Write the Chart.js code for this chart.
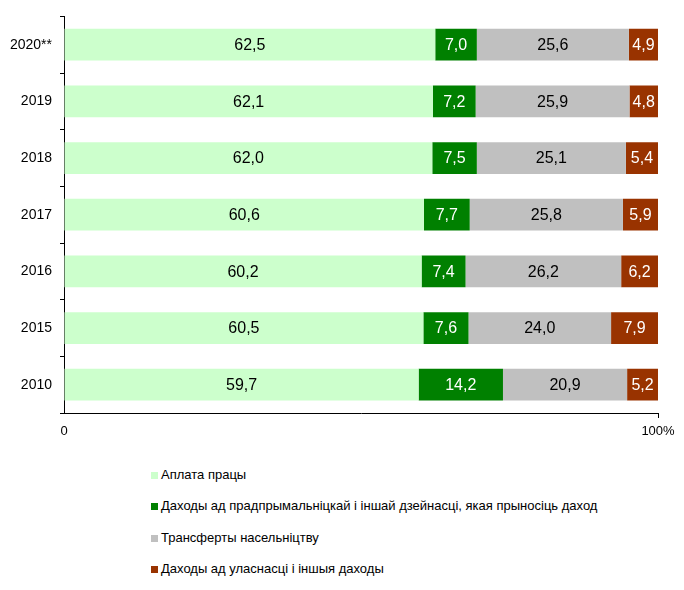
<!DOCTYPE html>
<html>
<head>
<meta charset="utf-8">
<script src="https://cdn.jsdelivr.net/npm/chart.js@4/dist/chart.umd.min.js"></script>
<style>
    body { margin: 0; background: #fff; font-family: Arial, "Liberation Sans", sans-serif; }
    #wrap { position: relative; width: 684px; height: 590px; }
    #legenda { position: absolute; left: 151px; top: 465px; font-size: 13px; color: #000; }
    #legenda div { height: 31.3px; line-height: 20px; white-space: nowrap; }
    #legenda span.box { display: inline-block; width: 7px; height: 7px; margin-right: 3px; vertical-align: 0px; }
</style>
</head>
<body>
<div id="wrap">
    <canvas id="estruturaChart" width="684" height="440"></canvas>
    <div id="legenda"></div>
</div>
<script>
    // Dados do gráfico
    const anos = ['2020**', '2019', '2018', '2017', '2016', '2015', '2010'];
    const aplataPracy = [62.5, 62.1, 62.0, 60.6, 60.2, 60.5, 59.7];
    const dachodyPradprymalnickaj = [7.0, 7.2, 7.5, 7.7, 7.4, 7.6, 14.2];
    const transferty = [25.6, 25.9, 25.1, 25.8, 26.2, 24.0, 20.9];
    const dachodyUlasnasci = [4.9, 4.8, 5.4, 5.9, 6.2, 7.9, 5.2];
    const nomesSeries = [
        'Аплата працы',
        'Даходы ад прадпрымальніцкай і іншай дзейнасці, якая прыносіць даход',
        'Трансферты насельніцтву',
        'Даходы ад уласнасці і іншыя даходы'
    ];
    const cores = ['#ccffcc', '#008000', '#c0c0c0', '#993300'];
    const coresTexto = ['#000', '#fff', '#000', '#fff'];
    const ticksX = [0, 100];

    const valores = [aplataPracy, dachodyPradprymalnickaj, transferty, dachodyUlasnasci];

    // Plugin simples para escrever os valores dentro das barras
    const rotulosPlugin = {
        id: 'rotulos',
        afterDatasetsDraw(chart) {
            const ctx = chart.ctx;
            ctx.save();
            ctx.font = '16px Arial, "Liberation Sans", sans-serif';
            ctx.textAlign = 'center';
            ctx.textBaseline = 'middle';
            chart.data.datasets.forEach((ds, i) => {
                const meta = chart.getDatasetMeta(i);
                ctx.fillStyle = coresTexto[i];
                meta.data.forEach((el, j) => {
                    const p = el.getCenterPoint();
                    const txt = ds.data[j].toFixed(1).replace('.', ',');
                    ctx.fillText(txt, p.x, p.y + 1);
                });
            });
            ctx.restore();
        }
    };

    const ctxEstrutura = document.getElementById('estruturaChart').getContext('2d');
    const estruturaChart = new Chart(ctxEstrutura, {
        type: 'bar',
        data: {
            labels: anos,
            datasets: valores.map((v, i) => ({
                label: nomesSeries[i],
                data: v,
                backgroundColor: cores[i],
                borderWidth: 0,
                categoryPercentage: 1,
                barPercentage: 0.56
            }))
        },
        options: {
            indexAxis: 'y',
            responsive: false,
            animation: false,
            layout: { padding: { top: 14, right: 26, left: 0, bottom: 0 } },
            plugins: {
                legend: { display: false },
                tooltip: { enabled: false }
            },
            scales: {
                x: {
                    stacked: true,
                    min: 0,
                    max: 100,
                    afterBuildTicks: scale => { scale.ticks = ticksX.map(v => ({ value: v })); },
                    afterFit: scale => { scale.height = 27; },
                    border: { color: '#000', width: 1 },
                    grid: {
                        drawOnChartArea: false,
                        tickLength: 5,
                        color: c => c.index === 0 ? 'rgba(0,0,0,0)' : '#000'
                    },
                    ticks: {
                        color: '#000',
                        padding: 6,
                        maxRotation: 0,
                        font: { family: 'Arial, "Liberation Sans", sans-serif', size: 13 },
                        callback: v => v === 100 ? '100%' : '0'
                    }
                },
                y: {
                    stacked: true,
                    afterFit: scale => { scale.width = 64; },
                    border: { color: '#000', width: 1 },
                    grid: {
                        drawOnChartArea: false,
                        offset: true,
                        tickLength: 4,
                        color: '#000'
                    },
                    ticks: {
                        color: '#000',
                        padding: 8,
                        font: { family: 'Arial, "Liberation Sans", sans-serif', size: 14 }
                    }
                }
            }
        },
        plugins: [rotulosPlugin]
    });

    // Legenda vertical abaixo do gráfico
    const legenda = document.getElementById('legenda');
    nomesSeries.forEach((nome, i) => {
        const linha = document.createElement('div');
        linha.innerHTML = '<span class="box" style="background:' + cores[i] + '"></span>' + nome;
        legenda.appendChild(linha);
    });
</script>
</body>
</html>
